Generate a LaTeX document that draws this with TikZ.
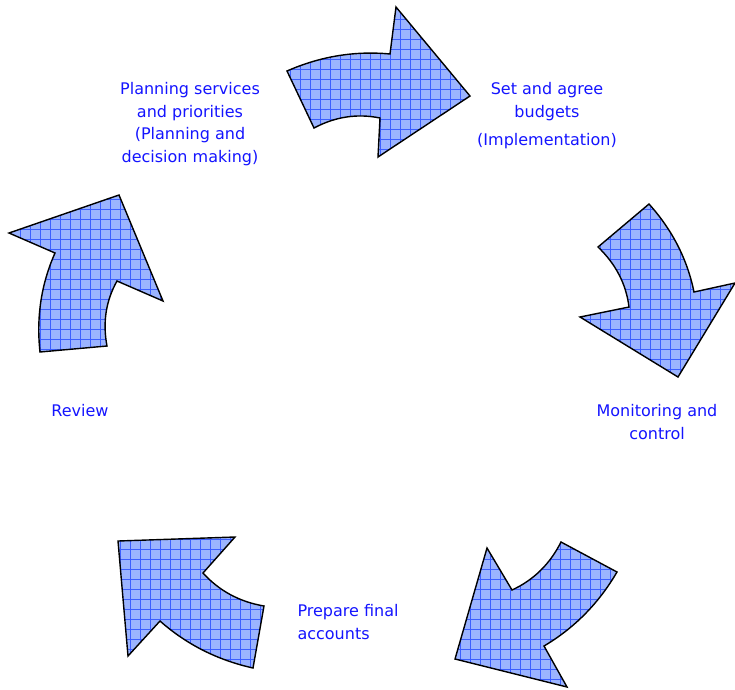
\documentclass[tikz,border=0pt]{standalone}
\usepackage{fontspec}
\setmainfont{DejaVu Sans}
\usetikzlibrary{patterns.meta}
\usetikzlibrary{calc}
\definecolor{arrowblue}{RGB}{155,180,255}
\definecolor{gridblue}{RGB}{60,95,255}
\definecolor{textblue}{RGB}{20,20,255}
\tikzset{
  cyclearrow/.style={draw=black,line width=1.4pt,preaction={fill=arrowblue},
    pattern={Hatch[distance=10pt,angle=0,line width=0.6pt]},pattern color=gridblue},
  steplabel/.style={text=textblue,align=center,font=\fontsize{16}{22.5}\selectfont}
}
% outer start, notch, head, tip, head, notch, inner end, outer bulge, inner bulge
\newcommand{\drawcyclearrow}[9]{
  \draw[cyclearrow] #1 .. controls ($#1!1/3!#2+#8$) and ($#1!2/3!#2+#8$) .. #2
    -- #3 -- #4 -- #5 -- #6
    .. controls ($#6!1/3!#7+#9$) and ($#6!2/3!#7+#9$) .. #7 -- cycle;
}

\begin{document}
\begin{tikzpicture}[x=1pt,y=-1pt]
      \useasboundingbox (0,0) rectangle (735,689);

      \drawcyclearrow{(287,71)}{(390,54)}{(396,7)}{(470,96)}{(378,157)}{(380,118)}{(314,128)}{(-0.9,-9)}{(-0.7,-8)};
      \drawcyclearrow{(649,204)}{(694,292)}{(735,283)}{(678,377)}{(580,317)}{(629,307)}{(598,247)}{(8.3,-3.4)}{(7.5,-2.9)};
      \drawcyclearrow{(617,572)}{(544,646)}{(567,687)}{(455,659)}{(487,548)}{(512,590)}{(561,542)}{(6,6.7)}{(5.2,6.1)};
      \drawcyclearrow{(253,668)}{(160,621)}{(128,656)}{(118,541)}{(235,537)}{(203,573)}{(264,606)}{(-4.6,7.7)}{(-4.2,6.8)};
      \drawcyclearrow{(40,352)}{(55,253)}{(9,233)}{(119,195)}{(163,301)}{(117,281)}{(107,346)}{(-8.8,-1.9)}{(-7.8,-1.8)};

      \node[steplabel] (plan) at (190,124) {Planning services\\and priorities\\(Planning and\\decision making)};
      \node[steplabel] (budget) at (547,116) {Set and agree\\budgets\\[6pt](Implementation)};
      \node[steplabel] (monitor) at (657,422) {Monitoring and\\control};
      \node[steplabel,align=left,anchor=west] (accounts) at (294,622) {Prepare final\\accounts};
      \node[steplabel] (review) at (80,411) {Review};
\end{tikzpicture}
\end{document}
